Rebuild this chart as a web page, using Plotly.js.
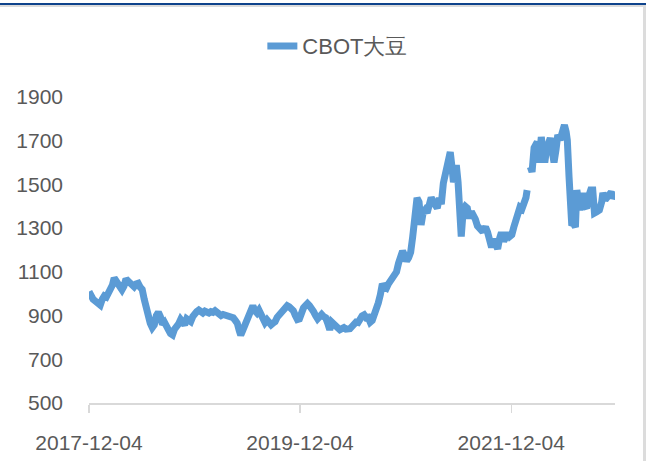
<!DOCTYPE html>
<html>
<head>
<meta charset="utf-8">
<script src="https://cdn.plot.ly/plotly-3.0.1.min.js"></script>
<style>
    html, body { margin: 0; padding: 0; background: #fff; }
    #wrap { position: relative; width: 646px; height: 461px; overflow: hidden; }
    #chart { width: 646px; height: 461px; }
    .top-blue { position: absolute; left: 0; top: 3px; width: 646px; height: 2px; background: #0E438C; }
    .top-gray { position: absolute; left: 0; top: 5px; width: 643px; height: 2px; background: #DCDCDC; }
    .right-gray { position: absolute; left: 643px; top: 5px; width: 3px; height: 456px; background: #DCDCDC; }
</style>
</head>
<body>
<div id="wrap">
    <div id="chart"></div>
    <div class="top-blue"></div>
    <div class="top-gray"></div>
    <div class="right-gray"></div>
</div>
<script>
const seriesName = 'CBOT大豆';

// weekly-ish readings of the front month, cents/bushel
const dates = [
    '2017-12-04','2017-12-11','2017-12-18','2017-12-27','2018-01-05','2018-01-12','2018-01-19','2018-01-26',
    '2018-02-02','2018-02-09','2018-02-16','2018-02-23','2018-03-01','2018-03-07','2018-03-14','2018-03-21',
    '2018-03-28','2018-04-04','2018-04-11','2018-04-18','2018-04-25','2018-05-02','2018-05-09','2018-05-16',
    '2018-05-23','2018-05-30','2018-06-06','2018-06-13','2018-06-20','2018-06-27','2018-07-04','2018-07-11',
    '2018-07-18','2018-07-25','2018-08-01','2018-08-08','2018-08-15','2018-08-22','2018-08-29','2018-09-05',
    '2018-09-12','2018-09-19','2018-09-26','2018-10-03','2018-10-10','2018-10-17','2018-10-24','2018-10-31',
    '2018-11-07','2018-11-14','2018-11-21','2018-11-28','2018-12-05','2018-12-12','2018-12-19','2018-12-26',
    '2019-01-02','2019-01-09','2019-01-16','2019-01-23','2019-01-30','2019-02-06','2019-02-13','2019-02-20',
    '2019-02-27','2019-03-06','2019-03-13','2019-03-20','2019-03-27','2019-04-03','2019-04-10','2019-04-17',
    '2019-04-24','2019-05-01','2019-05-08','2019-05-13','2019-05-20','2019-05-27','2019-06-03','2019-06-10',
    '2019-06-17','2019-06-24','2019-07-01','2019-07-08','2019-07-15','2019-07-22','2019-07-29','2019-08-05',
    '2019-08-12','2019-08-19','2019-08-26','2019-09-02','2019-09-09','2019-09-16','2019-09-23','2019-09-30',
    '2019-10-07','2019-10-14','2019-10-21','2019-10-28','2019-11-04','2019-11-11','2019-11-18','2019-11-25',
    '2019-12-02','2019-12-09','2019-12-16','2019-12-23','2019-12-30','2020-01-06','2020-01-13','2020-01-20',
    '2020-01-27','2020-02-03','2020-02-10','2020-02-17','2020-02-24','2020-03-02','2020-03-09','2020-03-16',
    '2020-03-23','2020-03-30','2020-04-06','2020-04-13','2020-04-20','2020-04-27','2020-05-04','2020-05-11',
    '2020-05-18','2020-05-25','2020-06-01','2020-06-08','2020-06-15','2020-06-22','2020-06-29','2020-07-06',
    '2020-07-13','2020-07-20','2020-07-27','2020-08-03','2020-08-10','2020-08-17','2020-08-24','2020-08-31',
    '2020-09-07','2020-09-14','2020-09-21','2020-09-28','2020-10-05','2020-10-12','2020-10-19','2020-10-26',
    '2020-11-02','2020-11-09','2020-11-16','2020-11-23','2020-11-30','2020-12-07','2020-12-14','2020-12-21',
    '2020-12-28','2021-01-04','2021-01-12','2021-01-19','2021-01-26','2021-02-02','2021-02-09','2021-02-16',
    '2021-02-23','2021-03-02','2021-03-09','2021-03-16','2021-03-23','2021-03-30','2021-04-06','2021-04-13',
    '2021-04-20','2021-04-27','2021-05-04','2021-05-07','2021-05-12','2021-05-18','2021-05-25','2021-05-28',
    '2021-06-03','2021-06-09','2021-06-14','2021-06-21','2021-06-28','2021-07-05','2021-07-12','2021-07-19',
    '2021-07-26','2021-08-02','2021-08-09','2021-08-16','2021-08-23','2021-08-30','2021-09-06','2021-09-13',
    '2021-09-20','2021-09-27','2021-10-04','2021-10-11','2021-10-18','2021-10-25','2021-10-31','2021-11-08',
    '2021-11-15','2021-11-22','2021-11-29','2021-12-06','2021-12-13','2021-12-20','2021-12-27','2022-01-03',
    '2022-01-10','2022-01-17','2022-01-24','2022-01-28','2022-02-03','2022-02-08','2022-02-14','2022-02-21',
    '2022-02-28','2022-03-04','2022-03-09','2022-03-15','2022-03-18','2022-03-24','2022-03-30','2022-04-05',
    '2022-04-11','2022-04-18','2022-04-25','2022-05-01','2022-05-08','2022-05-14','2022-05-22','2022-05-30',
    '2022-06-06','2022-06-12','2022-06-16','2022-06-22','2022-06-27','2022-07-01','2022-07-08','2022-07-14',
    '2022-07-19','2022-07-24','2022-07-30','2022-08-05','2022-08-10','2022-08-16','2022-08-22','2022-08-30',
    '2022-09-05','2022-09-12','2022-09-18','2022-09-26','2022-10-05','2022-10-13','2022-10-17','2022-10-25',
    '2022-11-03','2022-11-10','2022-11-15','2022-11-21','2022-11-28'
];
const soyPrices = [
    1010, 990, 975, 965, 958, 948, 975, 990,
    985, 1000, 1018, 1040, 1072, 1060, 1035, 1025,
    1018, 1035, 1068, 1058, 1045, 1040, 1032, 1045,
    1048, 1030, 1020, 975, 930, 900, 865, 845,
    858, 900, 915, 895, 860, 870, 840, 835,
    818, 812, 838, 848, 862, 882, 868, 858,
    885, 880, 872, 895, 912, 918, 925, 918,
    912, 920, 916, 912, 918, 915, 922, 912,
    905, 900, 905, 902, 895, 898, 893, 890,
    878, 865, 830, 810, 832, 858, 872, 905,
    938, 945, 922, 912, 925, 905, 882, 868,
    880, 860, 858, 866, 872, 892, 905, 910,
    925, 938, 945, 940, 932, 922, 900, 882,
    885, 915, 935, 945, 955, 945, 935, 918,
    900, 885, 895, 905, 895, 890, 865, 835,
    870, 858, 855, 845, 835, 840, 845, 838,
    835, 840, 850, 862, 870, 868, 890, 898,
    903, 890, 892, 870, 878, 900, 925, 958,
    995, 1045, 1030, 1025, 1045, 1060, 1075, 1085,
    1100, 1140, 1165, 1195, 1175, 1150, 1165, 1190,
    1260, 1320, 1438, 1420, 1315, 1370, 1383, 1370,
    1415, 1440, 1420, 1400, 1392, 1438, 1410, 1505,
    1540, 1570, 1620, 1648, 1590, 1510, 1560, 1589,
    1510, 1420, 1262, 1385, 1400, 1392, 1345, 1375,
    1362, 1340, 1310, 1295, 1290, 1292, 1305, 1282,
    1235, 1212, 1250, 1232, 1205, 1255, 1280, 1240,
    1262, 1278, 1262, 1270, 1305, 1340, 1380, 1395,
    1388, 1410, 1440, 1474, null, 1580, 1557, 1668,
    1690, 1694, 1600, 1660, 1717, 1650, 1600, 1660,
    1703, 1712, 1650, 1600, 1660, 1726, 1703, 1730,
    1772, 1740, 1703, 1534, 1397, 1323, 1320, 1305,
    1474, 1420, 1383, 1420, 1461, 1400, 1392, 1450,
    1474, 1474, 1369, 1375, 1383, 1420, 1461, 1429,
    1445, 1451, 1465, 1438, 1450
];

const xTickVals = ['2017-12-04', '2019-12-04', '2021-12-04'];
const xTickText = ['2017-12-04', '2019-12-04', '2021-12-04'];
const yTickVals = [500, 700, 900, 1100, 1300, 1500, 1700, 1900];

/**
 * Draws the soybean price line
 * @param divSelector
 * @param x   dates
 * @param y   prices
 */
const makeSoyPlot = function(divSelector, x, y) {
    const data = [{
        x: x,
        y: y,
        name: seriesName,
        type: 'scatter',
        mode: 'lines',
        connectgaps: false,
        line: {color: '#5B9BD5', width: 7}
    }];
    const layout = {
        width: 646,
        height: 461,
        margin: {l: 89, r: 31, t: 97, b: 58},
        paper_bgcolor: '#fff',
        plot_bgcolor: '#fff',
        font: {family: 'Liberation Sans, Arial, sans-serif', color: '#595959', size: 21},
        showlegend: true,
        legend: {
            orientation: 'h',
            xref: 'container',
            yref: 'container',
            x: 0.523,
            xanchor: 'center',
            y: 0.9,
            yanchor: 'middle',
            font: {size: 22, color: '#595959'}
        },
        xaxis: {
            type: 'date',
            range: ['2017-12-04', '2022-11-28'],
            tickvals: xTickVals,
            ticktext: xTickText,
            ticks: 'outside',
            ticklen: 8,
            tickwidth: 1.5,
            tickcolor: '#D9D9D9',
            showline: true,
            linecolor: '#D9D9D9',
            linewidth: 1.5,
            showgrid: false,
            zeroline: false,
            ticklabelstandoff: 12,
            tickfont: {size: 21, color: '#595959'}
        },
        yaxis: {
            range: [500, 1900],
            tickvals: yTickVals,
            showline: false,
            showgrid: false,
            zeroline: false,
            ticks: '',
            ticklabelstandoff: 25,
            tickfont: {size: 21, color: '#595959'}
        }
    };

    Plotly.newPlot(divSelector, data, layout, {displayModeBar: false, staticPlot: true});
}

makeSoyPlot('chart', dates, soyPrices);
</script>
</body>
</html>
